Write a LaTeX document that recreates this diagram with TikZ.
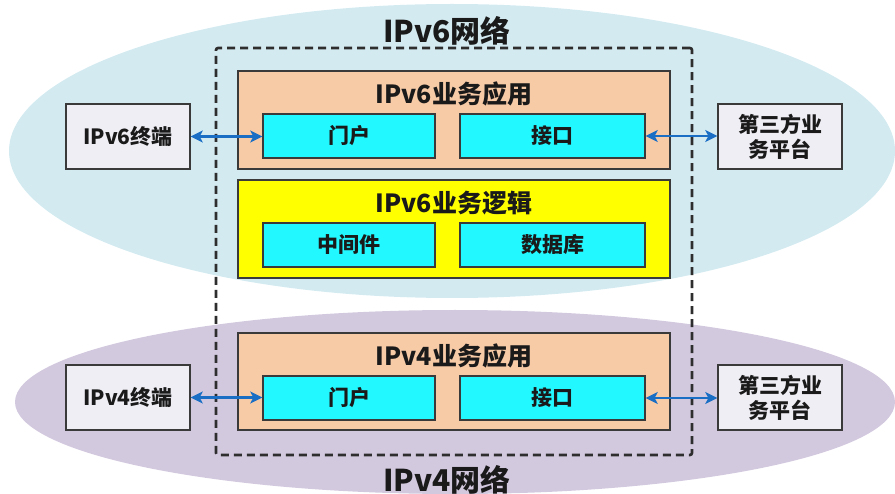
\documentclass[tikz,border=0pt]{standalone}
\usepackage{fontspec}
\setmainfont{Noto Sans CJK SC}
\usetikzlibrary{arrows.meta,shapes.geometric}
\definecolor{net6c}{HTML}{D3EAF0}
\definecolor{net4c}{HTML}{D3C9DF}
\definecolor{peach}{HTML}{F8CBA7}
\definecolor{cyanbox}{HTML}{22F8FF}
\definecolor{yellowbox}{HTML}{FFFF00}
\definecolor{lightbox}{HTML}{F0EEF5}
\definecolor{edgec}{HTML}{3A3A3A}
\definecolor{framec}{HTML}{2E2E2E}
\definecolor{arrowc}{HTML}{1A6FC4}
\definecolor{textc}{HTML}{1A1A1A}
\begin{document}
\begin{tikzpicture}[x=1pt,y=-1pt,
  netshape/.style={ellipse,inner sep=0pt,draw=none},
  bigbox/.style={draw=edgec,line width=1.4pt,inner sep=0pt,minimum width=432pt},
  cellbox/.style={draw=edgec,fill=cyanbox,line width=1.4pt,inner sep=0pt,minimum height=44pt,font=\bfseries\fontsize{21}{24}\selectfont,text=textc},
  sidebox/.style={draw=edgec,fill=lightbox,line width=1.4pt,inner sep=0pt,minimum width=124pt,minimum height=65pt,font=\bfseries\fontsize{21}{25}\selectfont,text=textc,align=center},
  titletext/.style={inner sep=0pt,font=\bfseries\fontsize{25}{28}\selectfont,text=textc},
  nettext/.style={inner sep=0pt,font=\bfseries\fontsize{30}{34}\selectfont,text=textc},
  link/.style={draw=arrowc,line width=2.2pt,{Stealth[length=12pt,width=12pt,inset=3pt]}-{Stealth[length=12pt,width=12pt,inset=3pt]}}
]
\useasboundingbox (0,0) rectangle (895,494);
% networks
\node[netshape,fill=net6c,minimum width=886pt,minimum height=294pt] (net6) at (452,151) {};
\node[netshape,fill=net4c,minimum width=880pt,minimum height=184pt] (net4) at (455,402) {};
\node[nettext] (net6t) at (447,31) {IPv6网络};
\node[nettext] (net4t) at (447,480) {IPv4网络};
% dashed frame
\node[draw=framec,dash pattern=on 8pt off 5pt,line width=2.6pt,rounded corners=2pt,inner sep=0pt,minimum width=476pt,minimum height=407pt] (frame) at (454,251.5) {};
% IPv6 app
\node[bigbox,fill=peach,minimum height=98pt] (app6) at (454,120) {};
\node[titletext] (app6t) at (454,94) {IPv6业务应用};
\node[cellbox,minimum width=172pt] (portal6) at (349,136) {门户};
\node[cellbox,minimum width=185pt] (iface6) at (552.5,136) {接口};
% IPv6 logic
\node[bigbox,fill=yellowbox,minimum height=98pt] (logic6) at (454,229) {};
\node[titletext] (logic6t) at (454,203) {IPv6业务逻辑};
\node[cellbox,minimum width=172pt] (mid6) at (349,245) {中间件};
\node[cellbox,minimum width=185pt] (db6) at (552.5,245) {数据库};
% IPv4 app
\node[bigbox,fill=peach,minimum height=97pt] (app4) at (454,381.5) {};
\node[titletext] (app4t) at (454,356) {IPv4业务应用};
\node[cellbox,minimum width=172pt] (portal4) at (349,398) {门户};
\node[cellbox,minimum width=185pt] (iface4) at (552.5,398) {接口};
% side boxes
\node[sidebox] (term6) at (128,136.5) {IPv6终端};
\node[sidebox] (third6) at (780,136.5) {第三方业\\务平台};
\node[sidebox] (term4) at (128,397.5) {IPv4终端};
\node[sidebox] (third4) at (780,397.5) {第三方业\\务平台};
% links
\draw[link] (term6.east) -- (portal6.west |- term6.east);
\draw[link] (iface6.east) -- (third6.west |- iface6.east);
\draw[link] (term4.east) -- (portal4.west |- term4.east);
\draw[link] (iface4.east) -- (third4.west |- iface4.east);
\end{tikzpicture}
\end{document}
